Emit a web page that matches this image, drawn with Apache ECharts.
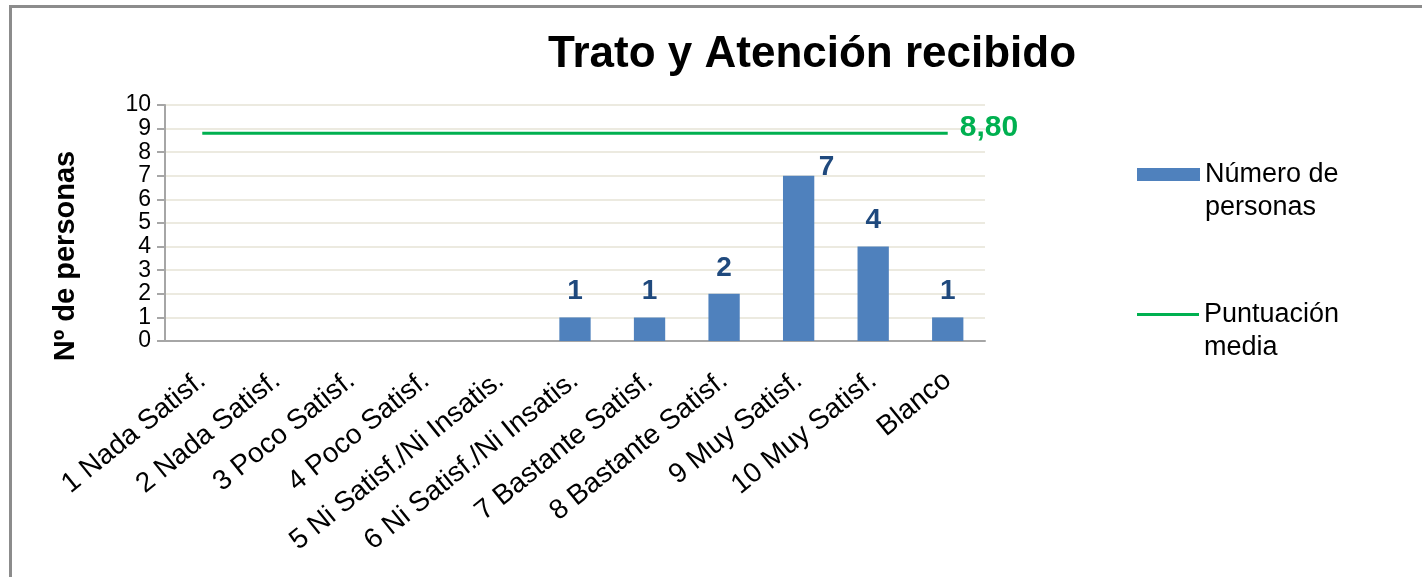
<!DOCTYPE html>
<html>
<head>
<meta charset="utf-8">
<title>Trato y Atención recibido</title>
<script src="https://cdn.jsdelivr.net/npm/echarts@6/dist/echarts.min.js"></script>
<style>
  html, body { margin: 0; padding: 0; background: #fff; }
  #frame {
    position: absolute; left: 9px; top: 5px; width: 1420px; height: 580px;
    border-top: 3px solid #8c8c8c; border-left: 3px solid #8c8c8c;
  }
  #chart { position: absolute; left: 0; top: 0; width: 1422px; height: 577px; }
</style>
</head>
<body>
<div id="frame"></div>
<div id="chart"></div>
<script>
// categorias del eje X
var categorias = ['1 Nada Satisf.', '2 Nada Satisf.', '3 Poco Satisf.', '4 Poco Satisf.',
  '5 Ni Satisf./Ni Insatis.', '6 Ni Satisf./Ni Insatis.', '7 Bastante Satisf.',
  '8 Bastante Satisf.', '9 Muy Satisf.', '10 Muy Satisf.', 'Blanco'];
// numero de personas por categoria (sin valor = vacio)
var personas = [null, null, null, null, null, 1, 1, 2, 7, 4, 1];
// puntuacion media (linea)
var media = [8.8, 8.8, 8.8, 8.8, 8.8, 8.8, 8.8, 8.8, 8.8, 8.8, 8.8];
var ticksY = [0, 10];

var fuente = "'Liberation Sans', Arial, sans-serif";

var chartDom = document.getElementById('chart');
var myChart = echarts.init(chartDom);

// la etiqueta del 7 esta desplazada a la derecha en el original
var datosBarras = personas.map(function (v, i) {
  if (i === 8) return { value: v, label: { offset: [28, 17] } };
  return v;
});

var option = {
  animation: false,
  title: {
    text: 'Trato y Atención recibido',
    left: 548,
    top: 33,
    padding: 0,
    textStyle: { fontFamily: fuente, fontSize: 44, fontWeight: 'bold', color: '#000' }
  },
  grid: { left: 165, right: 437, top: 105, bottom: 236, outerBoundsMode: 'none' },
  legend: [
    {
      data: ['Número de personas'],
      left: 1137, top: 125, padding: 0,
      orient: 'vertical',
      icon: 'rect',
      itemWidth: 63, itemHeight: 13, itemGap: 0,
      // linea vacia arriba para que la primera linea quede junto al icono
      formatter: function () { return ' \nNúmero de\npersonas'; },
      textStyle: { fontFamily: fuente, fontSize: 27, lineHeight: 33, color: '#000' }
    },
    {
      data: ['Puntuación media'],
      left: 1137, top: 265, padding: 0,
      orient: 'vertical',
      icon: 'rect',
      itemWidth: 62, itemHeight: 3, itemGap: 0,
      formatter: function () { return ' \nPuntuación\nmedia'; },
      textStyle: { fontFamily: fuente, fontSize: 27, lineHeight: 33, color: '#000' }
    }
  ],
  xAxis: {
    type: 'category',
    data: categorias,
    axisLine: { lineStyle: { color: '#a6a6a6', width: 2 } },
    axisTick: { show: false },
    axisLabel: {
      interval: 0, rotate: 39, margin: 36,
      fontFamily: fuente, fontSize: 28, color: '#000'
    }
  },
  yAxis: {
    type: 'value',
    min: ticksY[0], max: ticksY[1], interval: 1,
    name: 'Nº de personas',
    nameLocation: 'middle',
    nameRotate: 90,
    nameGap: 85,
    nameTextStyle: { fontFamily: fuente, fontSize: 29, fontWeight: 'bold', color: '#000', padding: [0, 66, 0, 0] },
    axisLine: { show: true, lineStyle: { color: '#a6a6a6', width: 2 } },
    axisTick: { show: true, length: 8, lineStyle: { color: '#a6a6a6', width: 2 } },
    axisLabel: {
      fontFamily: fuente, fontSize: 23, color: '#000', margin: 14, lineHeight: 18,
      showMinLabel: true, showMaxLabel: true, hideOverlap: false
    },
    splitLine: { lineStyle: { color: '#eceae0', width: 2 } }
  },
  series: [
    {
      name: 'Número de personas',
      type: 'bar',
      data: datosBarras,
      barCategoryGap: '58%',
      itemStyle: { color: '#4f81bd' },
      label: {
        show: true, position: 'top', distance: 12,
        fontFamily: fuente, fontSize: 28, fontWeight: 'bold', color: '#1f497d'
      }
    },
    {
      name: 'Puntuación media',
      type: 'line',
      data: media,
      symbol: 'none',
      lineStyle: { color: '#00b050', width: 3 },
      itemStyle: { color: '#00b050' },
      endLabel: {
        show: true, distance: 12,
        formatter: function (p) { return p.value.toFixed(2).replace('.', ','); },
        fontFamily: fuente, fontSize: 30, fontWeight: 'bold', color: '#00b050', offset: [0, -6]
      }
    }
  ]
};

myChart.setOption(option);
</script>
</body>
</html>
